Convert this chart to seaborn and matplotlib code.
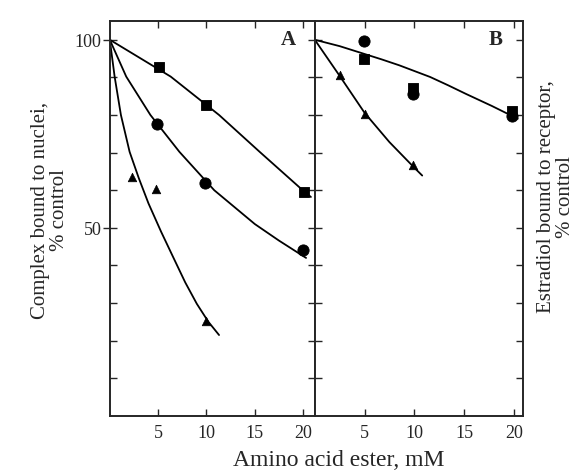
import matplotlib.pyplot as plt
import seaborn as sns
from matplotlib.ticker import FixedLocator

# --- Panel A: complex bound to nuclei (data points) ---
a_sq_x = [5.1, 9.95, 20.05]
a_sq_y = [92.7, 82.6, 59.6]
a_ci_x = [4.9, 9.85, 20.0]
a_ci_y = [77.6, 62.0, 44.1]
a_tr_x = [2.3, 4.8, 9.9]
a_tr_y = [63.4, 60.2, 25.3]

# Panel A drawn curves
a_sq_line_x = [0, 6.3, 11.3, 15.5, 19.95, 20.8]
a_sq_line_y = [100, 90.2, 80.0, 70.2, 60.0, 58.2]
a_ci_line_x = [0, 1.7, 4.2, 7.2, 10.8, 15.0, 17.5, 20.3]
a_ci_line_y = [100, 90.2, 80.0, 70.2, 60.0, 51.0, 46.6, 42.0]
a_tr_line_x = [0, 0.5, 1.15, 2.05, 3.0, 4.0, 5.3, 6.5, 7.8, 9.0, 10.2, 11.3]
a_tr_line_y = [100, 90.2, 80.0, 70.2, 63.2, 56.5, 49.0, 42.5, 35.5, 29.8, 25.0, 21.5]

# --- Panel B: estradiol bound to receptor ---
b_sq_x = [4.9, 9.9, 19.8]
b_sq_y = [94.8, 87.1, 81.1]
b_ci_x = [4.9, 9.9, 19.8]
b_ci_y = [99.6, 85.6, 79.8]
b_tr_x = [2.5, 5.0, 9.9]
b_tr_y = [90.5, 80.3, 66.6]

b_line_x = [0, 2.5, 4.9, 6.7, 8.5, 10.0, 11.6, 13.4, 15.2, 17.8, 20.4]
b_line_y = [100, 98.3, 96.3, 94.8, 93.2, 91.7, 90.1, 87.9, 85.6, 82.4, 79.0]
b_tr_line_x = [0, 2.5, 5.0, 7.5, 10.0, 10.8]
b_tr_line_y = [100, 90.4, 80.6, 72.8, 66.0, 63.9]

x_ticks = [5, 10, 15, 20]
y_minor = [10, 20, 30, 40, 60, 70, 80, 90]
y_major = [50, 100]

sns.set_style("ticks")
plt.rcParams['font.family'] = ['Liberation Serif', 'DejaVu Serif']
plt.rcParams['axes.linewidth'] = 1.4

fig = plt.figure(figsize=(5.84, 4.77), dpi=100)
axA = fig.add_axes([0.188, 0.126, 0.351, 0.828])
axB = fig.add_axes([0.539, 0.126, 0.356, 0.828])

line_kw = dict(color="black", linewidth=1.3, sort=False, estimator=None)

# panel A
sns.lineplot(x=a_sq_line_x, y=a_sq_line_y, ax=axA, **line_kw)
sns.lineplot(x=a_ci_line_x, y=a_ci_line_y, ax=axA, **line_kw)
sns.lineplot(x=a_tr_line_x, y=a_tr_line_y, ax=axA, **line_kw)
sns.scatterplot(x=a_sq_x, y=a_sq_y, ax=axA, marker="s", s=60, color="black", edgecolor="black")
sns.scatterplot(x=a_ci_x, y=a_ci_y, ax=axA, marker="o", s=65, color="black", edgecolor="black")
sns.scatterplot(x=a_tr_x, y=a_tr_y, ax=axA, marker="^", s=38, color="black", edgecolor="black")

# panel B
sns.lineplot(x=b_line_x, y=b_line_y, ax=axB, **line_kw)
sns.lineplot(x=b_tr_line_x, y=b_tr_line_y, ax=axB, **line_kw)
sns.scatterplot(x=b_sq_x, y=b_sq_y, ax=axB, marker="s", s=60, color="black", edgecolor="black")
sns.scatterplot(x=b_ci_x, y=b_ci_y, ax=axB, marker="o", s=65, color="black", edgecolor="black")
sns.scatterplot(x=b_tr_x, y=b_tr_y, ax=axB, marker="^", s=38, color="black", edgecolor="black")

axA.set_xlim(0, 21.2)
axB.set_xlim(0, 20.9)
for ax in (axA, axB):
    ax.set_ylim(0, 105)
    ax.set_xticks(x_ticks)
    ax.set_xticklabels([str(t) for t in x_ticks], fontsize=13)
    for s in ax.spines.values():
        s.set_visible(True)
        s.set_linewidth(1.4)
    ax.tick_params(axis="x", which="major", direction="in", length=5, width=1,
                   top=True, bottom=True, pad=6)
    ax.set_xlabel("")
    ax.set_ylabel("")

axA.yaxis.set_major_locator(FixedLocator(y_major))
axA.yaxis.set_minor_locator(FixedLocator(y_minor))
axA.set_yticklabels(["50", "100"], fontsize=13)
axA.tick_params(axis="y", which="major", direction="inout", length=10, width=1,
                left=True, right=True, pad=1)
axA.tick_params(axis="y", which="minor", direction="in", length=5, width=1,
                left=True, right=True)

axB.yaxis.set_major_locator(FixedLocator(y_major))
axB.yaxis.set_minor_locator(FixedLocator(y_minor))
axB.tick_params(axis="y", which="both", direction="in", length=5, width=1,
                left=True, right=True, labelleft=False)

axA.text(0.87, 0.955, "A", transform=axA.transAxes, fontsize=15,
         fontweight="bold", ha="center", va="center")
axB.text(0.87, 0.955, "B", transform=axB.transAxes, fontsize=15,
         fontweight="bold", ha="center", va="center")

fig.text(339 / 584, 1 - 461 / 477, "Amino acid ester, mM", fontsize=17,
         ha="center", va="center")
fig.text(50 / 584, 1 - 210 / 477, "Complex bound to nuclei,\n% control", fontsize=15,
         ha="center", va="center", rotation=90, linespacing=1.0)
fig.text(556 / 584, 1 - 197 / 477, "Estradiol bound to receptor,\n% control", fontsize=15,
         ha="center", va="center", rotation=90, linespacing=1.0)

fig.savefig("out.png", dpi=100)
